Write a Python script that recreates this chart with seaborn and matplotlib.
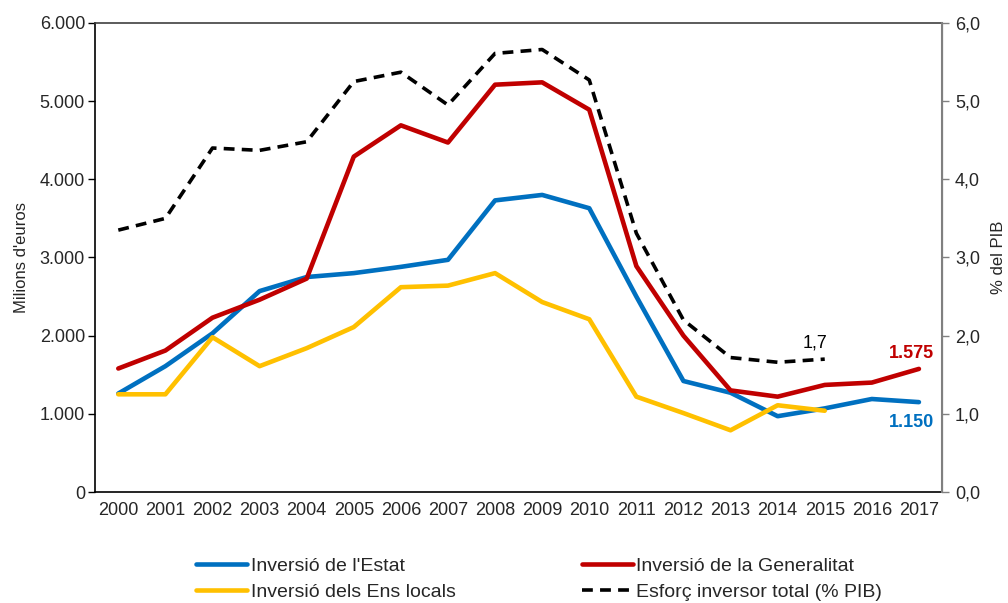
import numpy as np
import pandas as pd
import matplotlib
matplotlib.use("Agg")
import matplotlib.pyplot as plt
import seaborn as sns
from matplotlib.ticker import FuncFormatter

# Data
years = list(range(2000, 2018))
estat = [1260, 1610, 2030, 2570, 2750, 2800, 2880, 2970, 3730, 3800, 3630,
         2500, 1420, 1270, 970, 1070, 1190, 1150]
generalitat = [1580, 1810, 2230, 2460, 2730, 4290, 4690, 4470, 5210, 5240, 4890,
               2890, 2000, 1300, 1220, 1370, 1400, 1575]
ens_locals = [1250, 1250, 1980, 1610, 1840, 2110, 2620, 2640, 2800, 2430, 2210,
              1220, 1010, 790, 1110, 1040]
esforc_pib = [3.35, 3.50, 4.40, 4.37, 4.48, 5.25, 5.37, 4.95, 5.61, 5.66, 5.27,
              3.31, 2.20, 1.72, 1.66, 1.70]

sns.set_style("white")
plt.rcParams['font.family'] = ['Liberation Sans', 'DejaVu Sans']

fig = plt.figure(figsize=(10.08, 6.03), dpi=100)
ax = fig.add_axes([0.094, 0.184, 0.841, 0.778])
ax2 = ax.twinx()

blue = '#0070C0'
red = '#C00000'
yellow = '#FFC000'

df_estat = pd.DataFrame({'any': years, 'valor': estat})
df_gen = pd.DataFrame({'any': years, 'valor': generalitat})
df_ens = pd.DataFrame({'any': years[:len(ens_locals)], 'valor': ens_locals})
df_pib = pd.DataFrame({'any': years[:len(esforc_pib)], 'valor': esforc_pib})

sns.lineplot(data=df_estat, x='any', y='valor', ax=ax, color=blue, lw=3.3,
             label="Inversió de l'Estat", legend=False)
sns.lineplot(data=df_gen, x='any', y='valor', ax=ax, color=red, lw=3.3,
             label="Inversió de la Generalitat", legend=False)
sns.lineplot(data=df_ens, x='any', y='valor', ax=ax, color=yellow, lw=3.3,
             label="Inversió dels Ens locals", legend=False)
sns.lineplot(data=df_pib, x='any', y='valor', ax=ax2, color='black', lw=2.6,
             linestyle=(0, (3, 2)), label="Esforç inversor total (% PIB)", legend=False)

# axes limits and ticks
ax.set_xlim(1999.5, 2017.5)
ax.set_ylim(0, 6000)
ax2.set_ylim(0, 6)
ax.set_xticks(years)
ax.set_xticklabels([str(y) for y in years])
ax.set_xticks(np.arange(1999.5, 2018, 1), minor=True)
ax.tick_params(axis='x', which='major', length=0, labelsize=13, pad=7)
ax.tick_params(axis='x', which='minor', length=5, width=1, direction='out', color='black')
ax.set_yticks(np.arange(0, 6001, 1000))
ax.yaxis.set_major_formatter(FuncFormatter(lambda v, p: f"{int(v):,}".replace(',', '.')))
ax.tick_params(axis='y', length=5, width=1, direction='out', labelsize=13, left=True,
               color='black', pad=2)
ax2.set_yticks(np.arange(0, 6.1, 1))
ax2.yaxis.set_major_formatter(FuncFormatter(lambda v, p: f"{v:.1f}".replace('.', ',')))
ax2.tick_params(axis='y', length=5, width=1, direction='out', labelsize=13, right=True,
                color='#808080', pad=4)

ax.set_xlabel('')
ax.set_ylabel("Milions d'euros", fontsize=12, labelpad=8)
ax2.set_ylabel("% del PIB", fontsize=12, labelpad=8)

for s in ['left', 'bottom']:
    ax.spines[s].set_color('black')
    ax.spines[s].set_linewidth(1.2)
ax.spines['top'].set_color('#404040')
ax.spines['top'].set_linewidth(1.2)
ax2.spines['right'].set_color('#808080')
ax2.spines['right'].set_linewidth(1.5)
ax2.spines['top'].set_visible(False)
ax2.spines['left'].set_visible(False)
ax2.spines['bottom'].set_visible(False)

# annotations
ax2.text(2014.8, 1.85, "1,7", fontsize=13, color='black', ha='center')
ax.text(2016.85, 1720, "1.575", fontsize=13, color=red, fontweight='bold', ha='center')
ax.text(2016.85, 830, "1.150", fontsize=13, color=blue, fontweight='bold', ha='center')

# legend
h1, l1 = ax.get_legend_handles_labels()
h2, l2 = ax2.get_legend_handles_labels()
handles = [h1[0], h1[2], h1[1], h2[0]]
labels = [l1[0], l1[2], l1[1], l2[0]]
fig.legend(handles, labels, ncol=2, loc='lower center', bbox_to_anchor=(0.535, -0.025),
           frameon=False, fontsize=14, handlelength=2.6, handletextpad=0.2,
           columnspacing=6.5, labelspacing=0.4)

fig.savefig('out.png', dpi=100)
